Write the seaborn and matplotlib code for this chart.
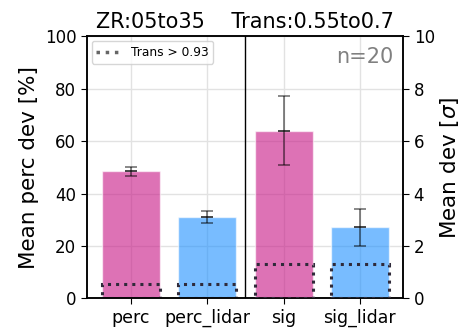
import numpy as np
import pandas as pd
import matplotlib
matplotlib.use("Agg")
import matplotlib.pyplot as plt
import seaborn as sns
from matplotlib.lines import Line2D

categories = ["perc", "perc_lidar", "sig", "sig_lidar"]
perc_cats = ["perc", "perc_lidar"]
sig_cats = ["sig", "sig_lidar"]
perc_mean = [48.5, 30.9]
perc_lo = [46.6, 28.9]
perc_hi = [50.1, 33.2]
sig_mean = [6.37, 2.72]
sig_lo = [5.08, 2.00]
sig_hi = [7.72, 3.42]
perc_trans = [5.6, 5.5]
sig_trans = [1.33, 1.33]
bar_colors = {"perc": "mediumvioletred", "perc_lidar": "dodgerblue",
              "sig": "mediumvioletred", "sig_lidar": "dodgerblue"}
title = "ZR:05to35    Trans:0.55to0.7"
n_text = "n=20"

sns.set_style("ticks")
plt.rcParams["font.family"] = ["DejaVu Sans"]
plt.rcParams["text.color"] = "black"
plt.rcParams["axes.labelcolor"] = "black"
plt.rcParams["xtick.color"] = "black"
plt.rcParams["ytick.color"] = "black"

fig = plt.figure(figsize=(4.62, 3.28), dpi=100)
ax = fig.add_axes([0.1877, 0.090, 0.6853, 0.800])
ax2 = ax.twinx()

df_p = pd.DataFrame({"cat": perc_cats, "val": perc_mean})
df_s = pd.DataFrame({"cat": sig_cats, "val": sig_mean})
df_pt = pd.DataFrame({"cat": perc_cats, "val": perc_trans})
df_st = pd.DataFrame({"cat": sig_cats, "val": sig_trans})

sns.barplot(data=df_p, x="cat", y="val", order=categories, hue="cat",
            palette=bar_colors, alpha=0.6, width=0.76, legend=False, ax=ax,
            errorbar=None, saturation=1, zorder=2)
sns.barplot(data=df_pt, x="cat", y="val", order=categories, fill=False,
            color="#2f2a3a", linestyle=":", linewidth=2.2, width=0.76,
            errorbar=None, ax=ax, zorder=3)
sns.barplot(data=df_s, x="cat", y="val", order=categories, hue="cat",
            palette=bar_colors, alpha=0.6, width=0.76, legend=False, ax=ax2,
            errorbar=None, saturation=1, zorder=2)
sns.barplot(data=df_st, x="cat", y="val", order=categories, fill=False,
            color="#2f2a3a", linestyle=":", linewidth=2.2, width=0.76,
            errorbar=None, ax=ax2, zorder=3)

ax.set_axisbelow(True)
ax.yaxis.grid(True, color="#e2e2e2", lw=1)
ax.xaxis.grid(True, color="#e2e2e2", lw=1)
ax2.yaxis.grid(False)
ax2.xaxis.grid(False)

ekw = dict(fmt="none", ecolor="black", alpha=0.5, capsize=4, elinewidth=1.3, capthick=1.3, zorder=5)
xp = [categories.index(c) for c in perc_cats]
xs = [categories.index(c) for c in sig_cats]
pm, pl, ph = map(np.array, (perc_mean, perc_lo, perc_hi))
sm, sl, sh = map(np.array, (sig_mean, sig_lo, sig_hi))
ax.errorbar(xp, pm, yerr=[np.zeros_like(pm), ph - pm], **ekw)
ax.errorbar(xp, pm, yerr=[pm - pl, np.zeros_like(pm)], **ekw)
ax2.errorbar(xs, sm, yerr=[np.zeros_like(sm), sh - sm], **ekw)
ax2.errorbar(xs, sm, yerr=[sm - sl, np.zeros_like(sm)], **ekw)

ax.axvline(1.5, color="black", lw=1, zorder=4)

ax.set_xlim(-0.58, 3.57)
ax.set_ylim(0, 100)
ax2.set_ylim(0, 10)
ax.set_yticks(np.arange(0, 101, 20))
ax2.set_yticks(np.arange(0, 11, 2))
ax.set_xticks(range(len(categories)))
ax.set_xticklabels(categories)
ax.set_xlabel("")
ax2.set_xlabel("")
ax.set_ylabel("Mean perc dev [%]", fontsize=15.5, labelpad=4, color="black")
ax2.set_ylabel(r"Mean dev [$\sigma$]", fontsize=15.5, labelpad=2, color="black")
ax.tick_params(axis="both", labelsize=12, direction="out", length=4, colors="black")
ax.tick_params(axis="x", pad=3.5, labelsize=12.5)
ax2.tick_params(axis="y", labelsize=12, direction="out", length=4, colors="black")
for a in (ax, ax2):
    for s in a.spines.values():
        s.set_color("black")
        s.set_linewidth(1.1)
ax.set_title(title, fontsize=15, pad=6, color="black")
ax.text(0.97, 0.96, n_text, transform=ax.transAxes, ha="right", va="top",
        fontsize=15, color="gray")

handle = Line2D([0], [0], color="#666666", linestyle=":", linewidth=2.5)
leg = ax2.legend([handle], ["Trans > 0.93"], loc="upper left", fontsize=8.8,
                 frameon=True, handlelength=2, borderaxespad=0.4)
leg.get_frame().set_edgecolor("#cccccc")
for t in leg.get_texts():
    t.set_color("black")

fig.savefig("out.png", dpi=100)
